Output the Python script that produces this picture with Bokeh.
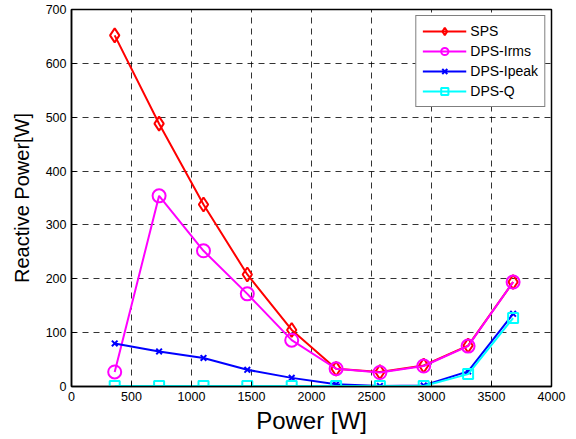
from bokeh.plotting import figure
from bokeh.embed import file_html
from bokeh.resources import INLINE
from bokeh.models import FixedTicker, Range1d

power = [360, 730, 1100, 1465, 1835, 2205, 2570, 2935, 3305, 3680]
sps = [652, 488, 338, 208, 105, 33, 27, 39, 76, 194]
dps_irms = [27, 354, 252, 172, 86, 33, 26, 38, 75, 194]
dps_ipeak = [80, 65, 53, 31, 16, 4, 1, 2, 28, 135]
dps_q = [1, 1, 1, 1, 1, 1, 1, 1, 23, 127]

x_ticks = [0, 500, 1000, 1500, 2000, 2500, 3000, 3500, 4000]
y_ticks = [0, 100, 200, 300, 400, 500, 600, 700]

FONT = "Liberation Sans"

p = figure(output_backend="svg", toolbar_location=None,
           frame_width=480, frame_height=377,
           min_border_left=71, min_border_top=9, min_border_right=16, min_border_bottom=45,
           x_range=Range1d(0, 4000), y_range=Range1d(0, 700))

p.background_fill_color = "white"
p.border_fill_color = "white"
p.outline_line_color = "black"
p.outline_line_width = 1.5

for ax in (p.xaxis[0], p.yaxis[0]):
    ax.axis_line_color = "black"
    ax.axis_line_width = 1.5
    ax.major_tick_in = 5
    ax.major_tick_out = 0
    ax.minor_tick_line_color = None
    ax.major_label_text_font = FONT
    ax.major_label_text_font_size = "12.5px"
    ax.major_label_text_color = "black"
    ax.axis_label_text_font = FONT
    ax.axis_label_text_font_style = "normal"
    ax.axis_label_text_color = "black"

p.xaxis.axis_label_text_font_size = "24px"
p.yaxis.axis_label_text_font_size = "20px"

p.xaxis.ticker = FixedTicker(ticks=x_ticks)
p.yaxis.ticker = FixedTicker(ticks=y_ticks)
p.xaxis.axis_label = "Power [W]"
p.yaxis.axis_label = "Reactive Power[W]"
p.xaxis.axis_label_standoff = 3
p.yaxis.axis_label_standoff = 10
p.xaxis.major_label_standoff = 5
p.yaxis.major_label_standoff = 5

for g in (p.xgrid[0], p.ygrid[0]):
    g.grid_line_color = "black"
    g.grid_line_dash = "6 5"
    g.grid_line_width = 1
    g.grid_line_alpha = 0.8

series = [
    ("SPS", sps, "#ff0000", "diamond", 14),
    ("DPS-Irms", dps_irms, "#ff00ff", "circle", 13),
    ("DPS-Ipeak", dps_ipeak, "#0000ff", "x", 8),
    ("DPS-Q", dps_q, "#00ffff", "square", 10),
]

for name, ys, color, marker, size in series:
    p.line(power, ys, line_color=color, line_width=2, legend_label=name)
    p.scatter(power, ys, marker=marker, size=size, line_color=color,
              fill_color=None, line_width=2, legend_label=name)

p.legend.location = "top_right"
p.legend.label_text_font = FONT
p.legend.label_text_font_size = "14px"
p.legend.label_text_color = "black"
p.legend.border_line_color = "black"
p.legend.border_line_width = 1
p.legend.background_fill_color = "white"
p.legend.background_fill_alpha = 1
p.legend.glyph_width = 44
p.legend.glyph_height = 18
p.legend.label_height = 18
p.legend.spacing = 2
p.legend.padding = 6
p.legend.margin = 6
p.legend.label_standoff = 4

open("out.html", "w").write(file_html(p, INLINE))
